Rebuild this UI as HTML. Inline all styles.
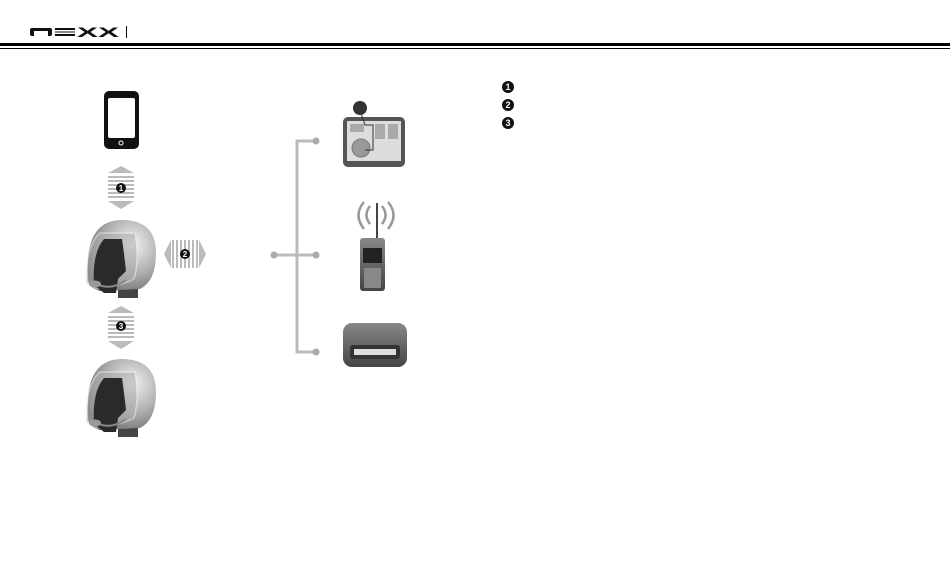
<!DOCTYPE html>
<html><head><style>
body{margin:0;background:#fff;width:950px;height:575px;overflow:hidden;font-family:"Liberation Sans",sans-serif}
</style></head><body>
<svg width="950" height="575" viewBox="0 0 950 575" xmlns="http://www.w3.org/2000/svg">
<defs>
<radialGradient id="hg" cx="0.65" cy="0.35" r="0.75"><stop offset="0" stop-color="#f2f2f2"/><stop offset="0.55" stop-color="#b0b0b0"/><stop offset="1" stop-color="#6a6a6a"/></radialGradient>
<linearGradient id="dv" x1="0" y1="0" x2="0" y2="1"><stop offset="0" stop-color="#888"/><stop offset="1" stop-color="#444"/></linearGradient>
<pattern id="hs" width="4" height="4" patternUnits="userSpaceOnUse"><rect width="4" height="2" fill="#bbb"/></pattern>
<pattern id="vs" width="4" height="4" patternUnits="userSpaceOnUse"><rect width="2" height="4" fill="#bbb"/></pattern>
<g id="helm">
<rect x="118" y="25" width="20" height="20" fill="#444"/>
<path d="M88,25 Q84,-33 122,-33 Q156,-33 156,0 Q156,28 140,36 L100,38 Q88,35 88,25 Z" fill="url(#hg)"/>
<path d="M86,30 Q86,-8 100,-20 L135,-20 Q140,5 134,26 Q118,34 96,36 Z" fill="#aaa" opacity="0.55" stroke="#eee" stroke-width="1.5"/>
<path d="M94,32 Q92,0 104,-14 L122,-14 Q124,0 126,18 L118,26 L116,40 L104,40 Z" fill="#2a2a2a"/>
<path d="M96,31 Q112,38 126,27" stroke="#888" stroke-width="2" fill="none"/>
<ellipse cx="95" cy="31" rx="6" ry="3.5" fill="#999"/>
</g>
</defs>
<!-- header -->
<g fill="#111">
<rect x="30" y="28" width="22" height="8" rx="2"/><rect x="34" y="31" width="14" height="5" fill="#fff"/>
<rect x="55" y="28" width="20" height="2"/><rect x="55" y="31" width="20" height="2" fill="#888"/><rect x="55" y="34" width="20" height="2"/>
<text x="77" y="37" font-size="14" font-weight="bold" textLength="42" lengthAdjust="spacingAndGlyphs">XX</text>
<rect x="126" y="26" width="1" height="12"/>
</g>
<rect x="0" y="43" width="950" height="3" fill="#000"/>
<rect x="0" y="48" width="950" height="1" fill="#000"/>
<!-- phone -->
<rect x="104" y="91" width="35" height="58" rx="5" fill="#111"/>
<rect x="108" y="98" width="27" height="40" rx="2" fill="#fff"/>
<circle cx="121" cy="143" r="2" fill="none" stroke="#fff" stroke-width="1"/>
<!-- arrow 1 -->
<polygon points="108,173 121,166 134,173" fill="#bbb"/>
<rect x="108" y="174" width="26" height="26" fill="url(#hs)"/>
<polygon points="108,201 121,209 134,201" fill="#bbb"/>
<circle cx="121" cy="188" r="5" fill="#111"/><text x="121" y="191" font-size="8" fill="#fff" text-anchor="middle" font-weight="bold">1</text>
<use href="#helm" transform="translate(0,253)"/>
<!-- arrow 2 -->
<polygon points="171,240 164,254 171,268" fill="#bbb"/>
<rect x="172" y="240" width="26" height="28" fill="url(#vs)"/>
<polygon points="199,240 206,254 199,268" fill="#bbb"/>
<circle cx="185" cy="254" r="5" fill="#111"/><text x="185" y="257" font-size="8" fill="#fff" text-anchor="middle" font-weight="bold">2</text>
<!-- arrow 3 -->
<polygon points="108,313 121,306 134,313" fill="#bbb"/>
<rect x="108" y="314" width="26" height="26" fill="url(#hs)"/>
<polygon points="108,341 121,349 134,341" fill="#bbb"/>
<circle cx="121" cy="326" r="5" fill="#111"/><text x="121" y="329" font-size="8" fill="#fff" text-anchor="middle" font-weight="bold">3</text>
<use href="#helm" transform="translate(0,392)"/>
<!-- bracket -->
<g stroke="#bbb" stroke-width="3" fill="none">
<path d="M316,141 H297 V352 H316"/><path d="M274,255 H316"/>
</g>
<g fill="#aaa"><circle cx="316" cy="141" r="3.5"/><circle cx="316" cy="255" r="3.5"/><circle cx="316" cy="352" r="3.5"/><circle cx="274" cy="255" r="3.5"/></g>
<!-- gps -->
<rect x="343" y="117" width="62" height="50" rx="5" fill="#555"/>
<rect x="347" y="121" width="54" height="40" fill="#ddd"/>
<rect x="350" y="124" width="14" height="8" fill="#aaa"/><rect x="375" y="124" width="10" height="15" fill="#aaa"/><rect x="388" y="124" width="10" height="15" fill="#aaa"/>
<circle cx="361" cy="148" r="9" fill="#999" stroke="#777"/>
<path d="M360,110 L365,125 H373 V150 H365" stroke="#333" fill="none"/>
<circle cx="360" cy="108" r="7" fill="#333"/>
<!-- radio -->
<g fill="none" stroke="#999" stroke-width="2.5"><path d="M364,202 Q353,215 364,229"/><path d="M370,206 Q363,215 370,224"/><path d="M388,202 Q399,215 388,229"/><path d="M382,206 Q389,215 382,224"/></g>
<rect x="376" y="203" width="2" height="37" fill="#444"/>
<rect x="360" y="238" width="25" height="53" rx="3" fill="url(#dv)"/>
<rect x="363" y="248" width="19" height="15" fill="#222"/>
<rect x="364" y="268" width="17" height="20" fill="#888"/>
<!-- base -->
<rect x="343" y="323" width="64" height="44" rx="9" fill="url(#dv)"/>
<rect x="350" y="345" width="50" height="14" rx="3" fill="#333"/>
<rect x="354" y="349" width="42" height="6" fill="#ddd"/>
<!-- legend -->
<g font-size="9" font-weight="bold" fill="#fff" text-anchor="middle">
<circle cx="508" cy="87" r="6" fill="#111"/><text x="508" y="90">1</text>
<circle cx="508" cy="105" r="6" fill="#111"/><text x="508" y="108">2</text>
<circle cx="508" cy="123" r="6" fill="#111"/><text x="508" y="126">3</text>
</g>
</svg>
</body></html>
